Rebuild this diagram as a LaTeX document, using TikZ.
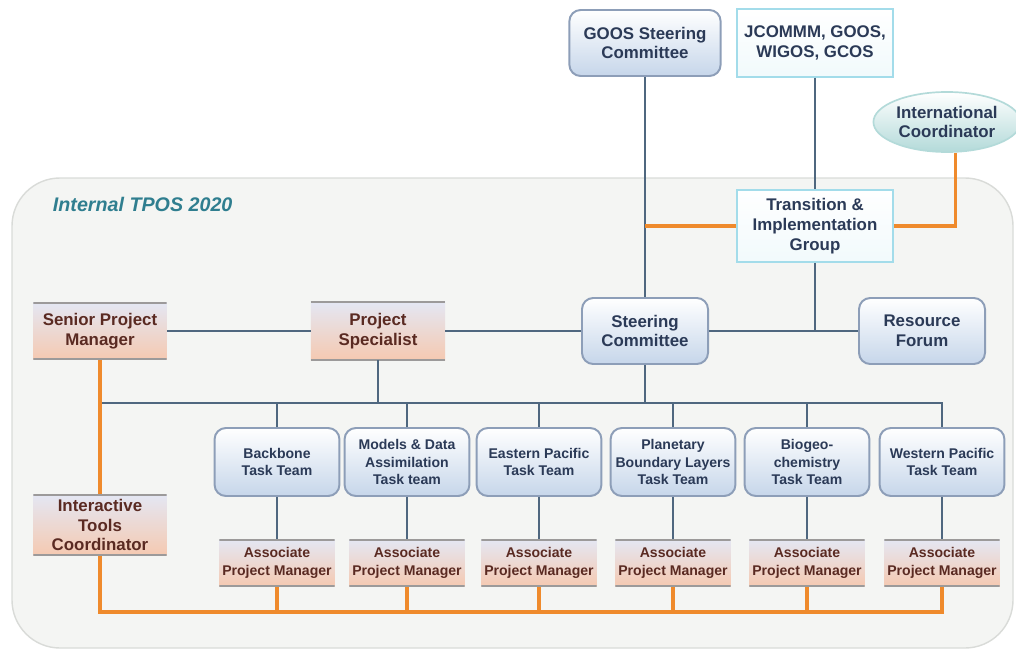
\documentclass[tikz,border=0pt]{standalone}
\usepackage{fontspec}
\setmainfont{Liberation Sans}
\usetikzlibrary{positioning,shapes.geometric}
\definecolor{tposNavy}{HTML}{2B3A57}
\definecolor{tposBrown}{HTML}{5A2A22}
\definecolor{tposSteel}{HTML}{4F677F}
\definecolor{tposOrange}{HTML}{EF8A2C}
\definecolor{tposFrame}{HTML}{8D9EB8}
\definecolor{tposSky}{HTML}{C6D6EA}
\definecolor{tposCyan}{HTML}{A3DCEA}
\definecolor{tposMist}{HTML}{E4E7F3}
\definecolor{tposPeach}{HTML}{F5C9B1}
\definecolor{tposRule}{HTML}{9C9A9A}
\definecolor{tposTeal}{HTML}{2F7E8F}
\definecolor{tposSea}{HTML}{B3DAD9}
\definecolor{tposPanel}{HTML}{F4F5F3}
\definecolor{tposEdge}{HTML}{D9DBD8}

\begin{document}
\begin{tikzpicture}[
  x=0.025cm, y=-0.025cm,
  font=\bfseries\fontsize{12}{14}\selectfont,
  boardbox/.style={draw=tposFrame, rounded corners=8pt, line width=1.4pt,
                   top color=white, bottom color=tposSky, text=tposNavy, align=center,
                   minimum width=3.15cm, minimum height=1.65cm, inner sep=3pt},
  teambox/.style={boardbox, font=\bfseries\fontsize{10}{12.5}\selectfont,
                  minimum width=3.12cm, minimum height=1.7cm, inner xsep=1pt},
  linkbox/.style={draw=tposCyan, line width=1.4pt, top color=white, bottom color=tposCyan!15,
                  text=tposNavy, align=center, minimum width=3.9cm, inner sep=3pt},
  staffbox/.style={top color=tposMist, bottom color=tposPeach, text=tposBrown, align=center,
                   minimum width=3.33cm, minimum height=1.45cm, inner sep=3pt,
                   path picture={\draw[tposRule, line width=2pt]
                     (path picture bounding box.north west) -- (path picture bounding box.north east)
                     (path picture bounding box.south west) -- (path picture bounding box.south east);}},
  assocbox/.style={staffbox, font=\bfseries\fontsize{10}{12.5}\selectfont,
                   minimum width=2.88cm, minimum height=1.18cm, inner xsep=1pt},
  steel/.style={draw=tposSteel, line width=2pt},
  amber/.style={draw=tposOrange, line width=2.2pt},
]
\useasboundingbox (0,0) rectangle (1016,656);
\path[fill=tposPanel, draw=tposEdge, line width=1pt, rounded corners=12mm] (12,178) rectangle (1013,648);
\node[anchor=west, text=tposTeal, font=\bfseries\itshape\fontsize{14}{16}\selectfont] (inner) at (48,204) {Internal TPOS 2020};

\node[boardbox, minimum width=3.78cm] (goos) at (645,43) {GOOS Steering\\Committee};
\node[linkbox, minimum height=1.68cm] (wmo) at (815,43) {JCOMMM, GOOS,\\WIGOS, GCOS};
\node[ellipse, draw=tposSea, line width=1.2pt, top color=white, bottom color=tposSea, text=tposNavy,
      align=center, minimum width=3.35cm, minimum height=1.5cm, inner sep=1pt] (intl) at (947,122) {International\\Coordinator};
\node[linkbox, minimum height=1.8cm] (tig) at (815,226) {Transition \&\\Implementation\\Group};

\node[staffbox, minimum height=1.43cm] (spm) at (100,331) {Senior Project\\Manager};
\node[staffbox, minimum width=3.35cm] (spec) at (378,331) {Project\\Specialist};
\node[boardbox] (steer) at (645,331) {Steering\\Committee};
\node[boardbox] (forum) at (922,331) {Resource\\Forum};

\node[teambox] (tBack) at (277,462) {Backbone\\Task Team};
\node[teambox] (tModel) at (407,462) {Models \& Data\\Assimilation\\Task team};
\node[teambox] (tEast) at (539,462) {Eastern Pacific\\Task Team};
\node[teambox] (tPlan) at (673,462) {Planetary\\Boundary Layers\\Task Team};
\node[teambox] (tBio) at (807,462) {Biogeo-\\chemistry\\Task Team};
\node[teambox] (tWest) at (942,462) {Western Pacific\\Task Team};

\node[assocbox, below=1.05cm of tBack] (aBack) {Associate\\Project Manager};
\node[assocbox, below=1.05cm of tModel] (aModel) {Associate\\Project Manager};
\node[assocbox, below=1.05cm of tEast] (aEast) {Associate\\Project Manager};
\node[assocbox, below=1.05cm of tPlan] (aPlan) {Associate\\Project Manager};
\node[assocbox, below=1.05cm of tBio] (aBio) {Associate\\Project Manager};
\node[assocbox, below=1.05cm of tWest] (aWest) {Associate\\Project Manager};

\coordinate (busL) at (100,403);
\coordinate (baseL) at (100,612);

\draw[steel] (goos) -- (steer);
\draw[steel] (wmo) -- (tig);
\draw[steel] (tig.south) -- (tig.south |- forum.west);
\draw[amber] (tig.west) -- (tig.west -| goos.south);
\draw[amber] (tig.east) -| (intl.-75);
\draw[steel] (spm) -- (spec);
\draw[steel] (spec) -- (steer);
\draw[steel] (steer) -- (forum);
\draw[steel] (steer.south) -- (steer.south |- busL);
\draw[steel] (spec.south) -- (spec.south |- busL);
\draw[steel] (busL) -| (tWest.north);
\draw[steel] (tBack.north |- busL) -- (tBack.north);
\draw[steel] (tModel.north |- busL) -- (tModel.north);
\draw[steel] (tEast.north |- busL) -- (tEast.north);
\draw[steel] (tPlan.north |- busL) -- (tPlan.north);
\draw[steel] (tBio.north |- busL) -- (tBio.north);
\draw[steel] (tBack) -- (aBack);
\draw[steel] (tModel) -- (aModel);
\draw[steel] (tEast) -- (aEast);
\draw[steel] (tPlan) -- (aPlan);
\draw[steel] (tBio) -- (aBio);
\draw[steel] (tWest) -- (aWest);
\draw[amber] (spm.south) -- (baseL) -| (aWest.south);
\draw[amber] (aBack.south) -- (aBack.south |- baseL);
\draw[amber] (aModel.south) -- (aModel.south |- baseL);
\draw[amber] (aEast.south) -- (aEast.south |- baseL);
\draw[amber] (aPlan.south) -- (aPlan.south |- baseL);
\draw[amber] (aBio.south) -- (aBio.south |- baseL);

\node[staffbox, minimum height=1.5cm] (itc) at (100,525) {Interactive\\Tools\\Coordinator};
\end{tikzpicture}
\end{document}
